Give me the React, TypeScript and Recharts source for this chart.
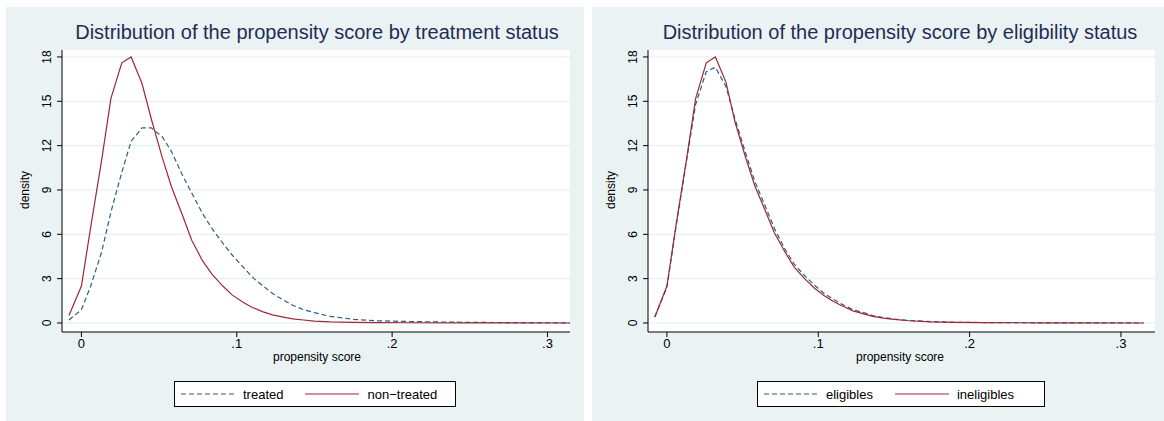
import { LineChart, Line, XAxis, YAxis, CartesianGrid } from "recharts";

const xs = [-0.008, 0, 0.006, 0.013, 0.019, 0.026, 0.032, 0.039, 0.045, 0.052, 0.058, 0.065, 0.071, 0.078, 0.084, 0.091, 0.097, 0.104, 0.11, 0.117, 0.123, 0.13, 0.136, 0.143, 0.15, 0.16, 0.175, 0.19, 0.21, 0.25, 0.315];
const treated = [0.2, 0.9, 2.5, 4.8, 7.5, 10.2, 12.3, 13.2, 13.2, 12.6, 11.6, 10.0, 8.8, 7.4, 6.4, 5.4, 4.6, 3.8, 3.1, 2.5, 2.0, 1.55, 1.2, 0.9, 0.7, 0.45, 0.25, 0.15, 0.1, 0.04, 0.01];
const nonTreated = [0.5, 2.5, 6.5, 11, 15.2, 17.6, 18, 16.2, 13.8, 11.2, 9.2, 7.3, 5.6, 4.2, 3.3, 2.5, 1.9, 1.4, 1.05, 0.75, 0.55, 0.4, 0.28, 0.2, 0.13, 0.08, 0.04, 0.02, 0.015, 0.01, 0];
const eligibles = [0.4, 2.4, 6.5, 11, 14.8, 17.0, 17.3, 16.0, 13.8, 11.5, 9.6, 7.9, 6.4, 5.0, 4.0, 3.2, 2.6, 2.0, 1.6, 1.2, 0.9, 0.7, 0.5, 0.37, 0.27, 0.17, 0.09, 0.05, 0.03, 0.01, 0];
const ineligibles = [0.4, 2.5, 6.6, 11.1, 15.2, 17.6, 18.0, 16.3, 13.6, 11.2, 9.3, 7.6, 6.1, 4.8, 3.8, 3.0, 2.4, 1.85, 1.45, 1.1, 0.82, 0.62, 0.45, 0.33, 0.24, 0.15, 0.08, 0.045, 0.025, 0.01, 0];
const xTicks = [0, 0.1, 0.2, 0.3];
const yTicks = [0, 3, 6, 9, 12, 15, 18];

const BLUE = "#2e5c8a";
const RED = "#9b2a35";
const BG = "#eaf2f3";
const FONT = "Liberation Sans, Arial, sans-serif";

const toData = (ys: number[]) => xs.map((x, i) => ({ x, y: ys[i] }));

function YTick({ x, y, payload }: any) {
  return (
    <text x={x - 4} y={y} transform={`rotate(-90 ${x - 4} ${y})`} textAnchor="middle" fontSize={12} fill="#000" fontFamily={FONT}>
      {payload.value}
    </text>
  );
}

function Panel({ left, width, title, a, b, aName, bName, xMax, legendLeft, legendWidth }: any) {
  const plotLeft = 56;
  const plotW = width - plotLeft - (width === 578 ? 14 : 9);
  return (
    <div style={{ position: "absolute", left, top: 7, width, height: 414, background: BG, fontFamily: FONT }}>
      <div style={{ position: "absolute", left: plotLeft, top: 43, width: plotW, height: 282, background: "#fff" }} />
      <div style={{ position: "absolute", left: 0, width, top: 14, textAlign: "center", paddingLeft: 44, boxSizing: "border-box", fontSize: 20, color: "#1f2d55", whiteSpace: "nowrap" }}>{title}</div>
      <div style={{ position: "absolute", left: 0, top: 176, transform: "rotate(-90deg)", fontSize: 12 }}>density</div>
      <LineChart width={width} height={414} style={{ position: "absolute", left: 0, top: 0 }}
        margin={{ left: plotLeft - 30, top: 43, right: width - plotLeft - plotW, bottom: 59 }}>
        <CartesianGrid vertical={false} stroke="#e3edf1" horizontalValues={yTicks} />
        <XAxis type="number" dataKey="x" domain={[-0.0125, xMax]} ticks={xTicks} allowDataOverflow height={30}
          tickFormatter={(v: number) => (v === 0 ? "0" : String(v).replace("0.", "."))}
          tick={{ fontSize: 13, fill: "#000", fontFamily: FONT }} stroke="#000" tickSize={5} />
        <YAxis type="number" domain={[-0.61, 18.47]} ticks={yTicks} width={30} tick={<YTick />} stroke="#000" tickSize={5} />
        <Line data={toData(a)} dataKey="y" stroke={BLUE} strokeDasharray="5 3" strokeWidth={1.2} dot={false} isAnimationActive={false} type="linear" />
        <Line data={toData(b)} dataKey="y" stroke={RED} strokeWidth={1.2} dot={false} isAnimationActive={false} type="linear" />
      </LineChart>
      <div style={{ position: "absolute", left: 0, width, paddingLeft: 44, boxSizing: "border-box", top: 343, textAlign: "center", fontSize: 12 }}>propensity score</div>
      <div style={{ position: "absolute", left: legendLeft, top: 374, width: legendWidth, height: 26, background: "#fff", border: "1px solid #000", display: "flex", alignItems: "center", fontSize: 13, boxSizing: "border-box" }}>
        <svg width={54} height={4} style={{ marginLeft: 6 }}><line x1={0} y1={2} x2={54} y2={2} stroke={BLUE} strokeDasharray="5 3" strokeWidth={1.2} /></svg>
        <span style={{ marginLeft: 8 }}>{aName}</span>
        <svg width={54} height={4} style={{ marginLeft: 22 }}><line x1={0} y1={2} x2={54} y2={2} stroke={RED} strokeWidth={1.2} /></svg>
        <span style={{ marginLeft: 8 }}>{bName}</span>
      </div>
    </div>
  );
}

export default function App() {
  return (
    <div style={{ position: "fixed", left: 0, top: 0, width: 1164, height: 421, background: "#fff", overflow: "hidden" }}>
      <Panel left={6} width={578} title="Distribution of the propensity score by treatment status"
        a={treated} b={nonTreated} aName="treated" bName="non−treated" xMax={0.3145} legendLeft={168} legendWidth={282} />
      <Panel left={592} width={572} title="Distribution of the propensity score by eligibility status"
        a={eligibles} b={ineligibles} aName="eligibles" bName="ineligibles" xMax={0.3225} legendLeft={165} legendWidth={288} />
    </div>
  );
}
